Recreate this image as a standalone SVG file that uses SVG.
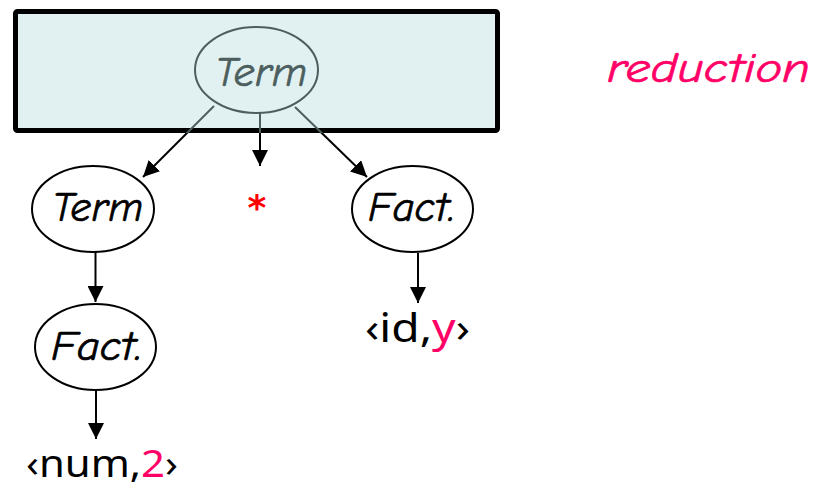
<svg xmlns="http://www.w3.org/2000/svg" width="814" height="488" viewBox="0 0 814 488">
  <style>
    .node { fill: #ffffff; stroke: #000000; stroke-width: 2; }
    .label { font-family: "Comic Sans MS", "Comic Neue", "DejaVu Sans", sans-serif; font-style: italic; font-size: 42px; fill: #000000; stroke: #000000; stroke-width: 0.7; }
    .token { font-family: "Noto Sans", "Liberation Sans", sans-serif; fill: #000000; }
    .edge { fill: none; stroke: url(#edgeInk); stroke-width: 2; marker-end: url(#head); }
    .pink { fill: #ff0066; }
    .label.pink { stroke: #ff0066; }
  </style>
  <defs>
    <!-- edges are drawn grey while they run inside the shaded box, black below it -->
    <linearGradient id="edgeInk" gradientUnits="userSpaceOnUse" x1="0" y1="0" x2="0" y2="488">
      <stop offset="0.2725" stop-color="#4c5e5e"/>
      <stop offset="0.2725" stop-color="#000000"/>
    </linearGradient>
    <marker id="head" markerUnits="userSpaceOnUse" markerWidth="16" markerHeight="16" viewBox="0 0 16 16" refX="16" refY="8" orient="auto">
      <path d="M0,0 L16,8 L0,16 Z" fill="#000000"/>
    </marker>
  </defs>

  <!-- shaded box marking the reduced subtree -->
  <rect id="reduction-box" x="15.5" y="11.5" width="482" height="119" rx="2" fill="#e1f1f1" stroke="#000000" stroke-width="5"/>

  <g id="connectors">
    <line class="edge" x1="214" y1="106" x2="143" y2="177"/>
    <line class="edge" x1="260" y1="113" x2="260" y2="166"/>
    <line class="edge" x1="295" y1="107" x2="367" y2="177"/>
    <line class="edge" x1="95.5" y1="252" x2="95.5" y2="302"/>
    <line class="edge" x1="418" y1="253" x2="418" y2="303"/>
    <line class="edge" x1="96" y1="390" x2="96" y2="439"/>
  </g>

  <g id="term-root">
    <ellipse cx="256.5" cy="70" rx="61.5" ry="43" fill="#e1f1f1" stroke="#4c5e5e" stroke-width="2"/>
    <text class="label" x="215" y="86" textLength="92" lengthAdjust="spacingAndGlyphs" style="fill:#4c5e5e;stroke:#4c5e5e">Term</text>
  </g>

  <g id="term-left">
    <ellipse class="node" cx="93" cy="209" rx="61" ry="43"/>
    <text class="label" x="52" y="221" textLength="91" lengthAdjust="spacingAndGlyphs">Term</text>
  </g>

  <g id="times">
    <text x="257" y="220" text-anchor="middle" font-family="DejaVu Sans, sans-serif" font-size="36" font-weight="bold" fill="#ff0000">*</text>
  </g>

  <g id="fact-right">
    <ellipse class="node" cx="412.5" cy="209" rx="60.5" ry="43"/>
    <text class="label" x="368" y="221" textLength="87" lengthAdjust="spacingAndGlyphs">Fact.</text>
  </g>

  <g id="fact-left">
    <ellipse class="node" cx="95.5" cy="347" rx="60.5" ry="43"/>
    <text class="label" x="51" y="360" textLength="91" lengthAdjust="spacingAndGlyphs">Fact.</text>
  </g>

  <g id="token-id">
    <text class="token" x="365" y="342" font-size="40" textLength="105" lengthAdjust="spacingAndGlyphs">‹id,<tspan class="pink">y</tspan>›</text>
  </g>

  <g id="token-num">
    <text class="token" x="26" y="477" font-size="38" textLength="152" lengthAdjust="spacingAndGlyphs">‹num,<tspan class="pink">2</tspan>›</text>
  </g>

  <g id="caption">
    <text class="label pink" x="607" y="82" font-size="40" textLength="203" lengthAdjust="spacingAndGlyphs">reduction</text>
  </g>
</svg>
